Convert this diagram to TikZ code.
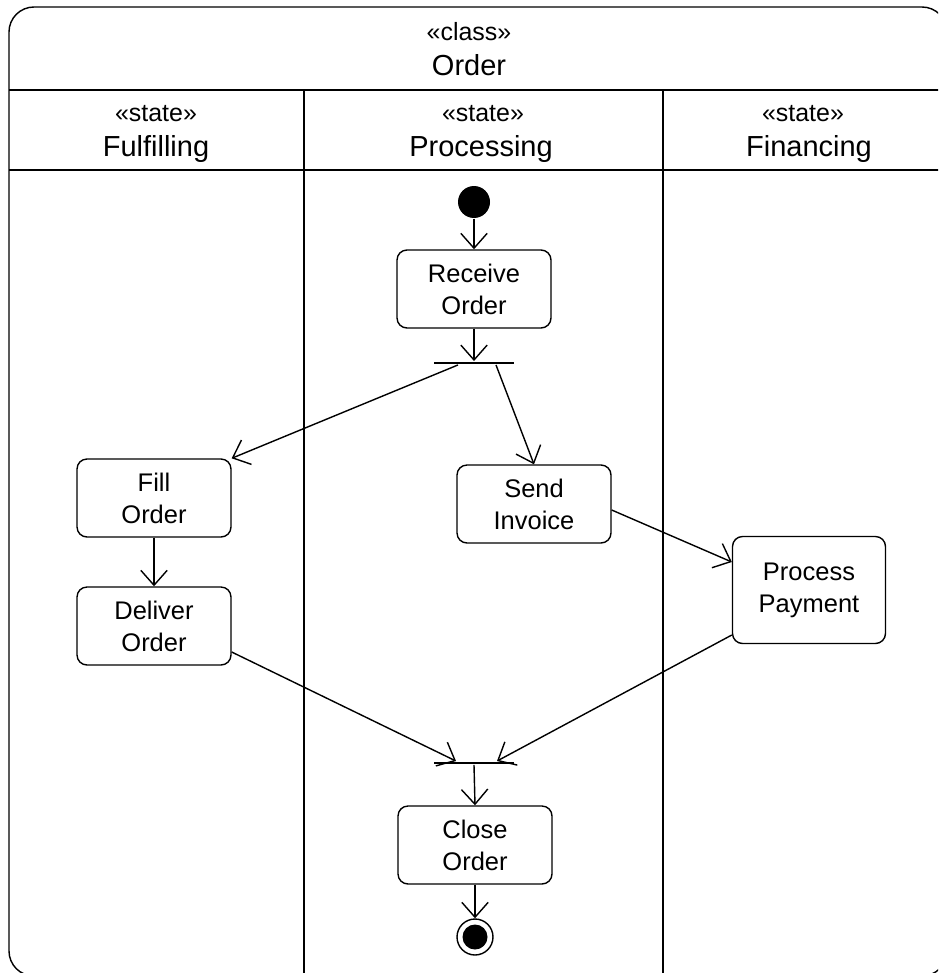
\documentclass[tikz,border=0pt]{standalone}
\usepackage{fontspec}
\setmainfont{Liberation Sans}
\usetikzlibrary{arrows.meta,calc}
\begin{document}
\begin{tikzpicture}[x=0.02cm,y=-0.02cm,line width=0.8pt,
  act/.style={draw,rounded corners=0.2cm,minimum width=3.08cm,minimum height=1.56cm,inner sep=0pt,align=center,font=\fontsize{14.5}{18.2}\selectfont},
  bar/.style={fill=black,minimum width=1.6cm,minimum height=0.05cm,inner sep=0pt},
  flow/.style={-{Straight Barb[length=8.5pt,width=15pt]}},
  stereo/.style={font=\fontsize{14.2}{17}\selectfont,inner sep=0pt,anchor=base},
  lname/.style={font=\fontsize{16.5}{20}\selectfont,inner sep=0pt,anchor=base}]
\useasboundingbox (0,0) rectangle (938,973);
\clip (0,0) rectangle (938,973);
% frame and lanes
\draw[rounded corners=0.5cm] (9,7) rectangle (947,976);
\draw (9,90) -- (947,90);
\draw (9,170) -- (947,170);
\draw (304,90) -- (304,976);
\draw (663,90) -- (663,976);
% headings
\node[stereo] (cst) at (469,41) {«class»};
\node[lname] (cname) at (469,76) {Order};
\node[stereo] (s1) at (156,122) {«state»};
\node[lname] (n1) at (156,157) {Fulfilling};
\node[stereo] (s2) at (483,122) {«state»};
\node[lname] (n2) at (481,157) {Processing};
\node[stereo] (s3) at (803,122) {«state»};
\node[lname] (n3) at (809,157) {Financing};
% activity nodes
\node[circle,fill=black,minimum size=0.64cm,inner sep=0pt] (init) at (474,202) {};
\node[act] (recv) at (474,289) {Receive\\Order};
\node[bar] (fork1) at (474,363) {};
\node[act] (fill) at (154,498) {Fill\\Order};
\node[act] (deliver) at (154,626) {Deliver\\Order};
\node[act] (send) at (534,504) {Send\\Invoice};
\node[act,minimum width=3.06cm,minimum height=2.14cm] (pay) at (809,590) {Process\\Payment};
\node[bar] (join) at (474,763) {};
\node[act] (close) at (475,845) {Close\\Order};
\node[circle,draw,minimum size=0.72cm,inner sep=0pt] (final) at (475,937) {};
\node[circle,fill=black,minimum size=0.5cm,inner sep=0pt] (finaldot) at (final.center) {};
% flows
\draw[flow] (init) -- (recv);
\draw[flow] (recv.south) -- (fork1.north);
\draw[flow] ($(fork1.south)+(-16,0)$) -- (fill.north east);
\draw[flow] ($(fork1.south)+(22,0)$) -- (send.north);
\draw[flow] (fill) -- (deliver);
\draw[flow] ($(send.east)+(0,6)$) -- ($(pay.west)+(0,-28)$);
\draw[flow] ($(deliver.east)+(0,26)$) -- ($(join.north)+(-18,0)$);
\draw[flow] ($(pay.west)+(0,45)$) -- ($(join.north)+(23,0)$);
\draw[flow] (join.south) -- (close.north);
\draw[flow] (close) -- (final);
\end{tikzpicture}
\end{document}
